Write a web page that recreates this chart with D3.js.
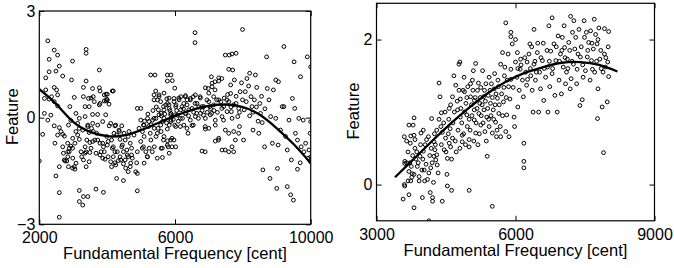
<!DOCTYPE html>
<head>
    <title>Feature vs Fundamental Frequency</title>
    <script src="https://d3js.org/d3.v7.min.js"></script>
</head>
<style>
body {
  margin: 0;
  background: #fff;
  font-family: "Liberation Sans", Arial, Helvetica, sans-serif;
}
.tick text { font-size: 16px; fill: #000; }
.tick line { stroke: #000; stroke-width: 1; }
.title { font-size: 16.5px; fill: #000; }
</style>
<body>
    <svg width="674" height="268"></svg>
</body>

<script>

    // ---- data ----
    // left panel: [frequency in cent, feature]
    var leftPoints = [
        [2000,-1.22],[2100,-0.47],[2250,2.16],[2440,1.9],[2290,1.64],[2540,1.76],[2590,1.45],[2290,1.29],
        [2190,1.12],[2490,1.31],[2690,1.17],[2190,0.78],[2290,0.52],[2150,0.54],[2360,0.59],[2440,0.85],
        [2510,0.78],[2540,0.64],[2440,0.45],[2540,0.33],[2150,0.12],[2340,0.07],[2250,-0.07],[2440,-0.23],
        [2590,-0.28],[2640,-0.39],[2540,-0.49],[2690,-0.47],[2740,-0.52],[2460,-0.72],[2490,-1.64],[2590,-1.38],
        [2590,-2.11],[2590,-2.8],[2710,-1.0],[2760,-1.22],[2810,-1.22],[2840,-1.1],[2880,-0.96],[2930,-0.8],
        [2980,-0.86],[2860,-1.38],[2980,-1.42],[3050,-1.45],[2950,1.06],[2980,1.59],[3030,0.57],[2900,0.31],
        [2930,-0.08],[2860,-0.21],[3080,0.12],[3130,-0.16],[3180,-0.02],[3080,-0.39],[3180,-0.3],[3050,-0.72],
        [3180,-0.61],[3230,-0.96],
        [3380,1.92],[3380,1.81],[3380,1.03],[3300,0.85],[3300,0.59],[3450,0.54],[3570,0.82],[3590,0.59],
        [3350,0.31],[3470,0.31],[3350,0.03],[3570,0.09],[3720,0.09],[3790,0.4],[3770,1.34],[3770,0.84],
        [3790,0.75],[3970,0.66],[3970,0.47],[3990,0.52],[4180,0.75],[3430,-0.21],[3540,-0.3],[3590,-0.39],
        [3470,-0.42],[3690,-0.44],[3640,-0.63],[3490,-0.7],[3400,-0.63],[3350,-0.82],[3350,-1.0],[3490,-0.98],
        [3250,-1.1],[3300,-1.19],[3470,-1.24],[3380,-1.38],[3180,-2.05],[3180,-2.36],[3280,-2.46],[3300,-2.22],
        [3430,-2.22],[3670,-2.01],[3890,-2.1],[3790,-0.72],[3890,-0.82],[3820,-0.96],[3790,-1.05],[3940,-1.17],
        [4030,-1.1],[3990,-0.53],[4030,-0.67],[4130,-0.63],[4180,-0.82],[4230,-0.96],[4180,-1.1],[4280,-0.49],
        [4360,-0.39],[4380,-0.61],[4430,-0.82],[4480,-0.96],[4380,-1.1],[4330,-1.21],[4530,-1.19],[4620,-1.1],
        [4580,-0.91],[4680,-0.72],[4720,-0.86],[4620,-0.53],[4530,-0.63],[4430,-0.23],[4230,-0.23],[4060,-0.23],
        [4280,-1.71],[4480,-1.77],[4890,-2.06],[4480,-1.3],[4680,-1.38],[4620,-1.52],[4890,-1.57],[4870,-1.27],
        [4720,-1.05],[4230,-1.27],[4130,-1.38],
        [4990,0.26],[4990,-0.07],[5070,-0.21],[5040,-0.39],[5090,-0.53],[4990,-0.67],[5070,-0.82],[5140,-0.96],
        [5090,-1.28],[5190,-1.1],[5240,-0.86],[5290,-0.63],[5270,-0.44],[5220,-0.25],[5190,-0.02],[5340,-0.07],
        [5390,-0.3],[5440,-0.53],[5390,-0.82],[5440,-0.02],[5410,1.2],[5480,0.5],[5530,0.64],[5510,0.22],
        [5590,0.12],[5660,0.31],[5630,-0.11],[5590,-0.39],[5660,-0.63],[5590,-0.86],[5780,-0.65],[5800,-0.82],
        [5830,-1.0],[5630,-1.12],[5760,0.53],[5780,0.4],[5830,0.26],[5880,0.12],[5920,0.03],[5880,-0.07],
        [5830,-0.21],[5880,1.2],[5920,1.04],[5970,0.54],[6020,0.31],[6070,0.07],[6020,-0.25],[5970,-0.63],
        [6020,-0.82],[6120,0.5],[6170,0.22],[6220,-0.02],[6260,0.4],[6310,0.12],[6260,-0.21],[6360,0.5],
        [6410,0.22],[6170,0.59],[6310,0.62],[6450,0.54],
        [6590,2.39],[6590,2.11],[6540,0.59],[6590,0.4],[6640,0.12],[6690,-0.02],[6540,-0.21],[6740,0.59],
        [6790,0.31],[6840,0.07],[6890,-0.25],[6890,-0.96],[6940,0.5],[6980,0.82],[7030,0.31],[7080,0.12],
        [7140,0.59],[7180,1.01],[7180,0.78],[7230,0.5],[7280,-0.63],[7380,1.1],[7380,0.26],[7430,-0.07],
        [7480,-0.91],[7530,0.5],[7600,1.76],[7640,0.92],[7640,0.68],[7660,0.17],[7700,1.34],[7730,-0.96],
        [7750,1.06],[7800,1.81],[7800,0.4],[7850,0.03],[7900,-0.25],[7920,0.73],[7960,0.98],[7990,2.48],
        [8020,-0.63],[7990,0.5],[8040,0.22],
        [8070,0.73],[8120,1.1],[8170,0.89],[8200,1.25],[8240,0.59],[8270,0.31],[8300,-0.35],[8340,0.5],
        [8370,1.2],[8410,0.85],[8470,-0.44],[8500,0.4],[8520,0.12],[8570,-0.14],[8590,-1.47],[8640,-0.82],
        [8700,1.71],[8720,0.82],[8770,0.5],[8800,-1.71],[8820,0.03],[8870,-0.72],[8900,0.78],[8970,1.06],
        [8970,-0.02],[9000,-1.99],[9020,-1.43],[9040,-0.77],[9050,1.01],[9110,-0.35],[9160,0.31],[9210,2.0],
        [9210,0.31],[9260,-0.53],[9310,-1.94],[9310,-0.91],[9360,-0.07],[9410,-2.17],[9430,-1.19],[9460,0.54],
        [9490,-2.32],[9510,1.57],[9530,0.26],[9550,-0.44],[9610,-0.63],[9610,-1.45],[9650,-0.02],[9690,-1.27],
        [9700,1.15],[9720,-0.82],[9780,-0.07],[9800,-0.96],[9850,-0.72],[9900,1.71],[9920,-1.14],[9950,-0.91],
        [9980,-0.44],[10000,1.43],[10000,-0.11],[10000,-1.1],[10000,-1.24],
        [7484,1.76],[7681,1.79],[7584,1.36],[7071,1.15],[7289,1.12],[7289,1.03],[7092,0.97],[6894,0.84],
        [6994,0.69],[7092,0.87],[5992,0.83],[6110,0.55],[6304,0.59],[6452,0.5],[6600,0.64],[6747,0.55],
        [6030,0.36],[6207,0.31],[6354,0.36],[6501,0.26],[6649,0.4],[6846,0.31],[6994,0.45],[7141,0.36],
        [7289,0.5],[7436,0.31],[7584,0.45],[7731,0.36],[7878,0.26],[6010,0.08],[6157,-0.02],[6304,0.12],
        [6452,-0.07],[6600,0.03],[6747,0.12],[6894,-0.02],[7041,0.08],[7188,-0.07],[7386,0.03],[7534,0.17],
        [7681,-0.02],[5992,-0.21],[6157,-0.25],[6354,-0.3],[6501,-0.22],[6894,-0.32],[6994,-0.3],[7188,-0.21],
        [7484,-0.35],[7731,-0.39],[6383,-0.44],[7878,-0.44],[7584,-0.44],[7780,-0.63],[7188,-0.66],[7289,-0.58],
        [7681,-0.82],[6796,-0.94],[7386,-0.91],[7584,-0.96],[5912,-0.58],[5912,-0.82],
        [4005,0.66],[4152,0.75],[4005,0.5],[4055,0.38],[3957,0.08],[4889,0.26],[4105,-0.16],[4252,-0.21],
        [4350,-0.35],[4202,-0.44],[4497,-0.44],[4644,-0.39],[4792,-0.49],[4939,-0.3],[5087,-0.21],[5234,-0.11],
        [5381,-0.02],[5529,0.08],[5676,0.22],[5824,0.36],[5971,0.45],[4005,-0.77],[4152,-0.86],[4299,-0.96],
        [4447,-0.77],[4594,-1.05],[4742,-1.14],[4889,-0.96],[5036,-0.86],[5183,-1.1],[5331,-0.96],[5479,-1.14],
        [5626,-0.86],[5774,-0.77],[4105,-1.24],[4252,-1.33],[4400,-1.19],[4547,-1.42],[4694,-1.28],[4842,-1.52],
        [5381,0.5],[5529,0.59],[5676,0.69],[5824,0.55],[5283,1.2],[5774,1.2],[5774,1.03],[5381,0.64],
        [5431,0.75],[5578,0.45],[5726,0.36],[5873,0.08],[5676,-0.02],[5873,-0.11],[5578,-0.21],[5774,-0.32],
        [5479,-0.44],[5676,-0.53],[5873,-0.63],
        [3916,0.64],[3916,0.47],[3769,0.36],[3621,0.45],[3524,0.55],[3574,-0.16],[3722,-0.21],[3869,-0.11],
        [3427,-0.25],[3279,-0.35],[3132,-0.49],[2985,-0.58],[2837,-0.72],[2690,-0.82],[3574,-0.67],[3722,-0.63],
        [3869,-0.72],[3916,-0.96],[3869,-1.14],[3672,-1.0],[3524,-0.86],[3377,-0.96],[2837,-0.96],[2884,-0.86],
        [2737,-1.19],[2985,-1.14],[3033,-1.38],[3082,-1.28],
        [5100,-0.1],[5200,0.1],[5300,-0.2],[5350,0.2],[5450,0.3],[5500,-0.3],[5600,0.05],[5700,0.1],
        [5750,-0.15],[5850,0.2],[5950,-0.05],[6050,0.2],[6100,-0.1],[6250,0.25],[6400,0.05],[6550,0.15],
        [6700,0.3],[6800,0.2],[6950,0.15],[7050,0.25],[7150,0.2],[7250,0.15],[7350,0.45],[7450,0.55],
        [7550,0.65],[7650,0.3],[7800,0.6],[7900,0.15],[8100,0.45],[8200,0.05],[8300,0.15],[8400,0.3],
        [8450,-0.1],[8550,0.6],[8650,0.25]
    ];

    // fitted curve of the left panel, read at round frequencies
    var leftCurve = [
        [2000,0.8],[2500,0.38],[3000,-0.12],[3500,-0.4],[4000,-0.52],[4500,-0.5],[5000,-0.35],[5500,-0.15],
        [6000,0.05],[6500,0.22],[7000,0.33],[7500,0.37],[8000,0.3],[8500,0.08],[9000,-0.3],[9500,-0.75],[10000,-1.28]
    ];

    // right panel: [frequency in cent, feature]
    var rightPoints = [
        [3575,-0.2],[3610,-0.02],[3600,0],[3600,0.66],[3610,0.32],[3610,0.29],[3700,0.82],[3730,0.57],
        [3740,0.67],[3810,0.92],[3790,0.82],[3810,-0.32],[3780,0.4],[3700,0.18],[3700,-0.14],[3740,0.05],
        [3810,0.14],[3810,0.68],[3830,0.5],[3830,0.62],[3880,0.25],[3920,0.11],[3920,0.05],[3940,0.39],
        [3960,0.71],[3990,-0.18],[4010,0.46],[4010,0.75],[4030,0.2],[4040,0.05],[4100,0.07],[4120,0.66],
        [4130,0.16],[4130,-0.5],[4160,-0.11],[4170,0.23],[4190,0.91],[4210,-0.18],[4210,-0.23],[4230,0.03],
        [4240,0.39],[4240,0.59],[4260,0.48],[4280,0.34],[4300,0.41],[4310,0.27],[4330,0.16],[4350,1.4],
        [4370,1.21],[4390,0.8],[4400,0.99],[4420,0.72],[4420,-0.23],[4460,0.48],[4490,0.64],[4520,0.14],
        [4530,-0.02],[4530,0.36],[4570,1.05],[4570,0.57],[4590,0.77],[4600,0.52],[4620,-0.08],[4640,0.64],
        [4640,1.21],
        [4670,1.5],[4710,1.37],[4750,1.03],[4780,1.66],[4800,1.69],[4780,1.3],[4810,1.18],[4810,0.93],
        [4850,0.68],[4850,0.59],[4890,1.48],[4900,1.28],[4930,1.12],[4950,0.96],[4960,0.8],[5000,0.52],
        [5000,0.62],[5000,-0.08],[5030,1.39],[5030,1.21],[5070,1.44],[5090,1.57],[5110,1.16],[5110,1.03],
        [5110,0.89],[5140,0.71],[5140,1.67],[5180,1.3],[5190,0.55],[5210,0.98],[5230,1.12],[5250,1.34],
        [5250,0.82],[5290,1.57],[5310,1.21],[5320,1.03],[5340,0.73],[5360,1.39],[5380,0.93],[5390,0.39],
        [5410,1.23],[5430,1.48],[5430,0.8],[5460,1.12],[5480,1.39],[5500,-0.3],[5500,0.71],[5520,1.03],
        [5540,1.32],[5550,1.53],[5570,0.86],[5590,0.66],[5610,1.19],[5620,1.44],[5640,0.98],[5670,0.8],
        [5680,0.66],[5680,1.66],
        [5720,1.82],[5740,1.14],[5750,1.34],[5770,1.62],[5790,0.73],[5790,2.23],[5810,0.96],[5820,1.44],
        [5840,1.8],[5860,0.66],[5880,1.18],[5900,2.1],[5900,2.04],[5900,1.59],[5930,1.94],[5950,1.34],
        [5970,0.93],[5980,0.8],[6000,2.0],[6000,1.69],[6030,1.48],[6040,1.82],[6050,1.07],[6080,1.3],
        [6100,1.59],[6110,1.73],[6150,1.44],[6170,1.21],[6180,0.57],[6180,0.32],[6180,0.23],[6220,1.55],
        [6240,1.37],[6250,1.69],[6290,1.8],[6310,1.94],[6330,1.5],[6360,1.3],[6380,1.0],[6400,2.14],
        [6400,1.66],[6430,1.44],[6470,1.82],[6500,1.0],[6520,1.55],[6540,1.32],[6580,1.71],[6600,1.95],
        [6610,1.16],[6650,1.48],[6690,1.62],[6700,1.0],[6720,2.19],[6740,1.35],[6760,1.84],
        [6790,2.3],[6790,1.53],[6830,1.94],[6850,1.23],[6870,1.71],[6900,1.0],[6920,2.05],[6940,1.44],
        [6970,1.8],[6990,1.25],[7010,2.03],[7030,1.62],[7050,2.19],[7060,1.89],[7080,1.39],[7100,1.55],
        [7120,1.73],[7150,1.96],[7180,1.32],[7190,2.32],[7200,1.46],[7230,2.1],[7250,1.66],[7260,2.26],
        [7280,1.87],[7300,2.03],[7320,1.39],[7330,1.59],[7370,2.14],[7390,1.09],[7400,1.76],[7420,1.9],
        [7440,1.17],[7460,1.48],[7480,2.26],[7490,2.03],[7510,1.57],[7530,2.1],[7550,1.76],[7580,1.96],
        [7610,1.44],[7620,2.12],[7640,1.71],[7660,1.59],[7680,1.87],[7700,2.28],[7710,1.55],[7730,2.07],
        [7760,1.94],[7770,0.91],[7780,1.32],[7800,2.16],[7820,1.73],[7840,1.85],[7870,1.07],[7890,1.55],
        [7900,0.44],[7920,1.8],[7940,1.62],[7980,1.14],[7990,1.69],[8010,2.11],[8010,1.49],
        [3650,0.3],[3680,0.45],[3750,0.25],[3770,0.15],[3850,0.35],[3870,0.45],[3900,0.3],[3950,0.55],
        [3980,0.2],[4000,0.35],[4050,0.55],[4070,0.28],[4080,0.62],[4150,0.4],[4180,0.5],[4200,0.3],
        [4250,0.7],[4270,0.55],[3650,0.6],[3680,0.05],[3720,0.3],[3760,0.1],
        [4300,0.75],[4350,0.9],[4400,0.55],[4450,0.85],[4480,1.0],[4500,0.45],[4550,0.7],[4560,0.9],
        [4600,1.1],[4620,0.35],[4650,0.85],[4680,1.0],[4700,0.6],[4720,0.45],[4740,1.15],[4760,0.75],
        [4800,0.5],[4820,1.05],[4840,0.85],[4870,1.3],[4880,0.7],[4900,1.0],[4920,0.55],[4950,1.2],
        [4970,1.35],[5000,0.9],[5020,0.75],[5050,1.1],[5060,0.95],[5080,1.3],[5100,0.6],[5130,1.2],
        [5150,0.85],[5170,1.05],[5200,1.4],[5220,0.7],[5240,1.2],[5260,0.95],[5280,1.1],[5300,0.85],
        [5330,1.3],[5350,1.15],[5370,0.6],[5400,1.05],[5420,0.9],[5450,1.3],[5470,0.95],[5500,1.2],
        [5530,0.9],[5560,1.1],[5580,1.25],[5600,0.75],[5630,1.35],[5650,1.1],[5700,1.25],[5720,0.95],
        [5760,1.5],[5800,1.2],[5850,1.35],[5900,1.45],
        [6050,1.6],[6120,1.65],[6200,1.75],[6260,1.45],[6320,1.6],[6350,1.9],[6420,1.7],[6450,1.55],
        [6480,1.95],[6550,1.75],[6620,1.6],[6680,1.85],[6730,1.7],[6800,1.6],[6880,1.9],[6950,1.7],
        [7000,1.85],[7070,1.75],[7130,1.6],[7170,1.85],[7220,1.7],[7350,1.8],[7450,1.65],[7560,1.85],
        [7650,1.95],[7750,1.7],[7850,1.6],[7950,1.75],[8000,1.9],[7920,2.15],[7780,2.0]
    ];

    // fitted curve of the right panel
    var rightCurve = [
        [3400,0.1],[3800,0.35],[4200,0.6],[4600,0.84],[5000,1.06],[5400,1.26],[5800,1.42],
        [6200,1.54],[6600,1.62],[7000,1.68],[7400,1.69],[7800,1.65],[8200,1.56]
    ];

    var leftXTicks = [2000, 6000, 10000];
    var leftYTicks = [-3, 0, 3];
    var rightXTicks = [3000, 6000, 9000];
    var rightYTicks = [0, 2];

    var svg = d3.select('svg');

    function drawPanel(id, points, curve, xDomain, yDomain, xTicks, yTicks, box, xTitleY, yTitleX) {
        var x = d3.scaleLinear().domain(xDomain).range([box.left, box.right]);
        var y = d3.scaleLinear().domain(yDomain).range([box.bottom, box.top]);
        var g = svg.append('g');

        svg.append('clipPath').attr('id', id)
            .append('rect')
            .attr('x', box.left).attr('y', box.top)
            .attr('width', box.right - box.left).attr('height', box.bottom - box.top);

        // inward ticks on all four sides
        var bottom = g.append('g').attr('transform', 'translate(0,' + box.bottom + ')')
            .call(d3.axisBottom(x).tickValues(xTicks).tickSize(-5).tickPadding(7.5).tickFormat(d3.format('d')));
        var top = g.append('g').attr('transform', 'translate(0,' + box.top + ')')
            .call(d3.axisTop(x).tickValues(xTicks).tickSize(-5).tickFormat(''));
        var left = g.append('g').attr('transform', 'translate(' + box.left + ',0)')
            .call(d3.axisLeft(y).tickValues(yTicks).tickSize(-5).tickPadding(4).tickFormat(function (d) { return d < 0 ? '\u2212' + (-d) : d; }));
        var right = g.append('g').attr('transform', 'translate(' + box.right + ',0)')
            .call(d3.axisRight(y).tickValues(yTicks).tickSize(-5).tickFormat(''));
        [bottom, top, left, right].forEach(function (a) {
            a.select('.domain').remove();
            a.selectAll('text').attr('font-family', null).attr('font-size', null);
        });

        var plot = g.append('g').attr('clip-path', 'url(#' + id + ')');

        plot.selectAll('circle')
            .data(points)
            .enter().append('circle')
            .attr('cx', function (d) { return x(d[0]); })
            .attr('cy', function (d) { return y(d[1]); })
            .attr('r', 1.9)
            .attr('fill', 'none')
            .attr('stroke', '#000')
            .attr('stroke-width', 1);

        var line = d3.line()
            .x(function (d) { return x(d[0]); })
            .y(function (d) { return y(d[1]); })
            .curve(d3.curveNatural);

        plot.append('path')
            .datum(curve)
            .attr('d', line)
            .attr('fill', 'none')
            .attr('stroke', '#000')
            .attr('stroke-width', 2.3);

        g.append('rect')
            .attr('x', box.left).attr('y', box.top)
            .attr('width', box.right - box.left).attr('height', box.bottom - box.top)
            .attr('fill', 'none').attr('stroke', '#000').attr('stroke-width', 1.2);

        g.append('text').attr('class', 'title')
            .attr('x', (box.left + box.right) / 2).attr('y', xTitleY)
            .attr('text-anchor', 'middle')
            .text('Fundamental Frequency [cent]');

        var cy = (box.top + box.bottom) / 2 - 1;
        g.append('text').attr('class', 'title')
            .attr('transform', 'translate(' + yTitleX + ',' + cy + ')rotate(-90)')
            .attr('text-anchor', 'middle')
            .text('Feature');
    }

    drawPanel('clipL', leftPoints, leftCurve, [2000, 10000], [-3, 3], leftXTicks, leftYTicks,
        {left: 39.3, right: 310.7, top: 11, bottom: 224.3}, 259, 18);
    drawPanel('clipR', rightPoints, rightCurve, [3000, 9000], [-0.5, 2.5], rightXTicks, rightYTicks,
        {left: 376.5, right: 654.5, top: 3.3, bottom: 220.8}, 256, 359);

</script>
